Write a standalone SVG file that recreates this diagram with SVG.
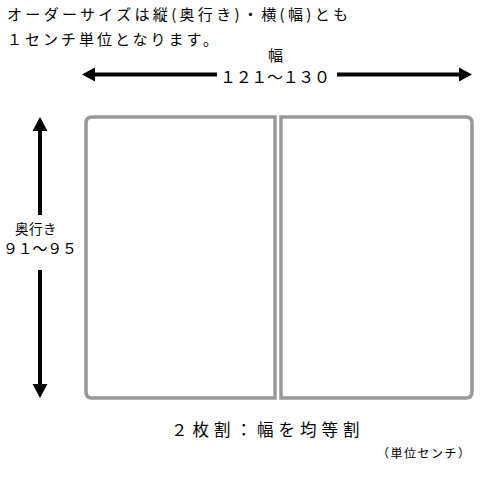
<svg xmlns="http://www.w3.org/2000/svg" width="480" height="480" viewBox="0 0 480 480">
<style>
text{font-family:"Noto Sans CJK JP","Noto Sans CJK SC",sans-serif;fill:#000}
.note{font-size:15px;letter-spacing:3px}
.dim{font-size:16px}
.panel{fill:#fff;stroke:#999;stroke-width:3.5}
.shaft{stroke:#000;stroke-width:4;fill:none}
.head{fill:#000}
</style>
<rect width="480" height="480" fill="#fff"/>
<g id="note">
<text class="note" x="7" y="20" textLength="344" lengthAdjust="spacing">オーダーサイズは縦(奥行き)・横(幅)とも</text>
<text class="note" x="7" y="45">１センチ単位となります。</text>
</g>
<g id="panel-left">
<path class="panel" d="M275,117 H92 Q86,117 86,123 V392 Q86,398 92,398 H275 Z"/>
</g>
<g id="panel-right">
<path class="panel" d="M281,117 H466 Q472,117 472,123 V392 Q472,398 466,398 H281 Z"/>
</g>
<g id="connectors">
<line class="shaft" x1="93" y1="74.5" x2="217" y2="74.5"/>
<polygon class="head" points="82,74.5 95,67.5 95,81.5"/>
<line class="shaft" x1="337" y1="74.5" x2="461" y2="74.5"/>
<polygon class="head" points="472,74.5 459,67.5 459,81.5"/>
<line class="shaft" x1="40" y1="128" x2="40" y2="215"/>
<polygon class="head" points="40,117 32.5,131 47.5,131"/>
<line class="shaft" x1="40" y1="270" x2="40" y2="387"/>
<polygon class="head" points="40,398 32.5,384 47.5,384"/>
</g>
<g id="width-label">
<text x="275.5" y="61" text-anchor="middle" style="font-size:15px">幅</text>
<text class="dim" x="220" y="83" textLength="110" lengthAdjust="spacing">１２１～１３０</text>
</g>
<g id="depth-label">
<text x="36" y="234" text-anchor="middle" style="font-size:13.5px;letter-spacing:0.5px">奥行き</text>
<text x="3" y="254" style="font-size:15px" textLength="74" lengthAdjust="spacing">９１～９５</text>
</g>
<g id="caption">
<text x="171" y="436" style="font-size:16.5px;letter-spacing:5px">２枚割：幅を均等割</text>
<text x="377" y="458" style="font-size:12px;letter-spacing:1.5px">（単位センチ）</text>
</g>
</svg>
